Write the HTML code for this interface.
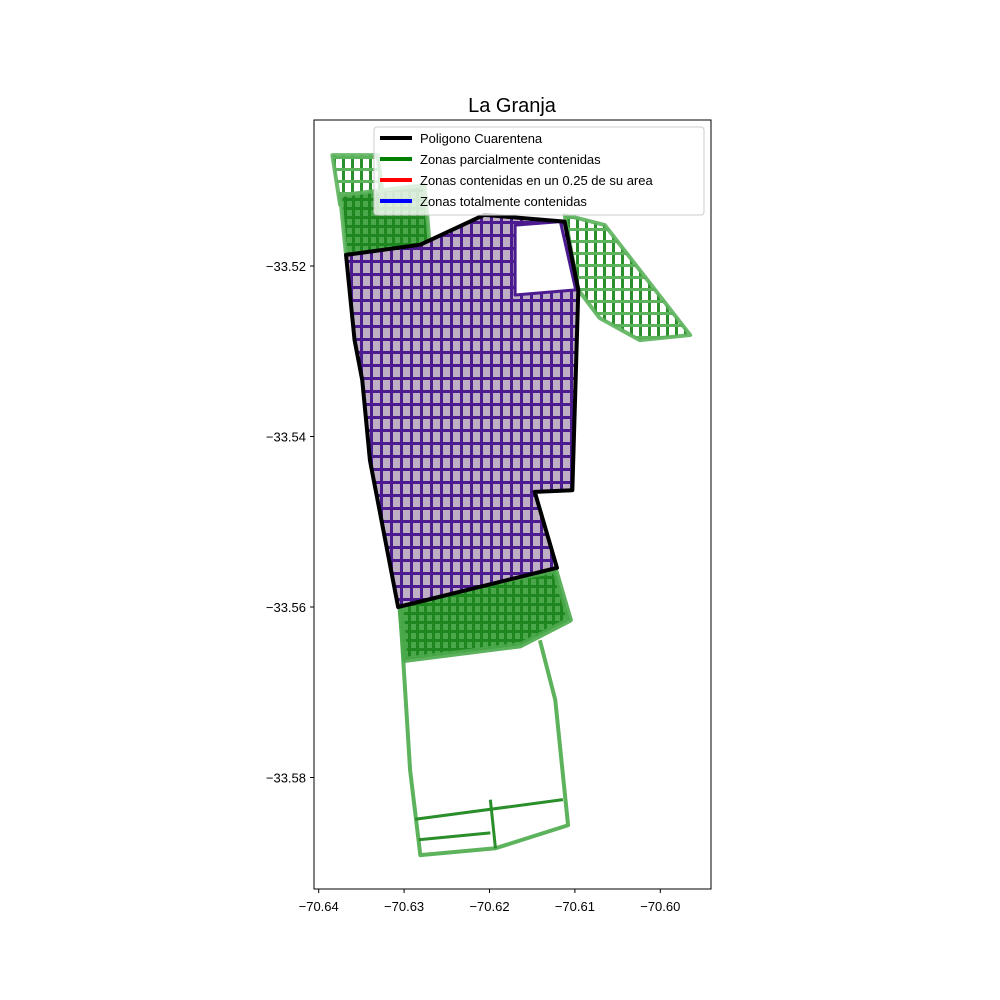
<!DOCTYPE html>
<html><head><meta charset="utf-8"><style>
body{margin:0;background:#fff;}
svg{display:block;font-family:"Liberation Sans","DejaVu Sans",sans-serif;}
</style></head><body>
<svg id="c" width="1000" height="1000" viewBox="0 0 1000 1000">
<defs>
<pattern id="pp" width="10" height="13" patternUnits="userSpaceOnUse">
<rect width="10" height="13" fill="#ffffff"/>
<rect x="3" y="3" width="7" height="10" fill="#6e4e7e" opacity="0.45"/>
<rect x="0" y="0" width="3" height="13" fill="#4b1b8f"/>
<rect x="0" y="0" width="10" height="3" fill="#4b1b8f"/>
</pattern>
<pattern id="gp" width="8" height="9" patternUnits="userSpaceOnUse">
<rect width="8" height="9" fill="#4aa84a"/>
<rect x="0" y="0" width="3" height="9" fill="#1f871f"/>
<rect x="0" y="0" width="8" height="3" fill="#1f871f"/>
</pattern>
<pattern id="gs" width="9" height="12" patternUnits="userSpaceOnUse">
<rect width="9" height="12" fill="#ffffff"/>
<rect x="0" y="0" width="3" height="12" fill="#2a8f2a"/>
<rect x="0" y="0" width="9" height="3" fill="#5cb35c"/>
</pattern>
</defs>
<text x="512" y="112" text-anchor="middle" font-size="20">La Granja</text>
<g id="plot"></g>
<rect x="314" y="120" width="397" height="769" fill="none" stroke="#000" stroke-width="1"/>
<g id="xt"></g><g id="yt"></g>
<g>
<rect x="374" y="127" width="330" height="88" fill="#fff" fill-opacity="0.8" stroke="#ccc" rx="3"/>
<g><line x1="380" y1="138" x2="412" y2="138" stroke="#000" stroke-width="4"/><text x="420" y="143" font-size="13">Poligono Cuarentena</text></g>
<g><line x1="380" y1="159" x2="412" y2="159" stroke="#008000" stroke-width="4"/><text x="420" y="164" font-size="13">Zonas parcialmente contenidas</text></g>
<g><line x1="380" y1="180" x2="412" y2="180" stroke="#ff0000" stroke-width="4"/><text x="420" y="185" font-size="13">Zonas contenidas en un 0.25 de su area</text></g>
<g><line x1="380" y1="201" x2="412" y2="201" stroke="#0000ff" stroke-width="4"/><text x="420" y="206" font-size="13">Zonas totalmente contenidas</text></g>
</g>
</svg>
<script>
const xTicks=[-70.64,-70.63,-70.62,-70.61,-70.60];
const xTickLabels=["\u221270.64","\u221270.63","\u221270.62","\u221270.61","\u221270.60"];
const yTicks=[-33.52,-33.54,-33.56,-33.58];
const yTickLabels=["\u221233.52","\u221233.54","\u221233.56","\u221233.58"];
const quarantineLon=[-70.6368,-70.6281,-70.6206,-70.6112,-70.6096,-70.6103,-70.6147,-70.6121,-70.6307,-70.634,-70.6349,-70.6358];
const quarantineLat=[-33.5187,-33.5175,-33.514,-33.5148,-33.5228,-33.5463,-33.5465,-33.5554,-33.56,-33.5428,-33.5334,-33.5287];
const gapLon=[-70.617,-70.6117,-70.6099,-70.617];
const gapLat=[-33.5152,-33.5148,-33.5228,-33.5234];
const northSparseLon=[-70.6384,-70.6331,-70.6324,-70.6375];
const northSparseLat=[-33.507,-33.507,-33.5123,-33.5128];
const northDenseLon=[-70.6375,-70.6276,-70.627,-70.6368];
const northDenseLat=[-33.5117,-33.5105,-33.5175,-33.5187];
const neLon=[-70.6112,-70.6065,-70.5965,-70.6024,-70.6071,-70.6096];
const neLat=[-33.514,-33.5152,-33.5281,-33.5287,-33.5261,-33.5228];
const southDenseLon=[-70.6305,-70.6123,-70.6106,-70.6164,-70.6299];
const southDenseLat=[-33.5592,-33.5557,-33.5615,-33.5645,-33.5662];
const southOutlineLon=[-70.6305,-70.6293,-70.6281,-70.6193,-70.6108,-70.6123,-70.6141];
const southOutlineLat=[-33.5598,-33.5791,-33.5891,-33.5883,-33.5856,-33.5709,-33.5639];
const southStreetsLon=[[-70.6287,-70.6114],[-70.6283,-70.6199],[-70.6199,-70.6193]];
const southStreetsLat=[[-33.5849,-33.5826],[-33.5873,-33.5865],[-33.5826,-33.5883]];
const NS="http://www.w3.org/2000/svg";
const X=v=>318.7+(v+70.64)*8540;
const Y=v=>266-(v+33.52)*8525;
const plot=document.getElementById('plot');
function pts(lo,la){return lo.map((v,i)=>X(v)+","+Y(la[i])).join(" ");}
function poly(lo,la,fill,stroke,sw,op,name,closed){
  const p=document.createElementNS(NS,closed===false?'polyline':'polygon');
  p.setAttribute('points',pts(lo,la));
  p.setAttribute('fill',fill);p.setAttribute('stroke',stroke);p.setAttribute('stroke-width',sw);
  p.setAttribute('stroke-opacity',op);p.setAttribute('stroke-linejoin','round');
  
  
  plot.appendChild(p);return p;
}
poly(northSparseLon,northSparseLat,"url(#gs)","#5cb35c",4,0.9,"zone-north-sparse");
poly(northDenseLon,northDenseLat,"url(#gp)","#5cb35c",4,0.9,"zone-north-dense");
poly(neLon,neLat,"url(#gs)","#5cb35c",4,0.9,"zone-northeast");
poly(southOutlineLon,southOutlineLat,"none","#5cb35c",4,1,"zone-south-outline",false);
southStreetsLon.forEach((lo,i)=>{poly(lo,southStreetsLat[i],"none","#2a8f2a",3,1,"south-street",false);});
poly(southDenseLon,southDenseLat,"url(#gp)","#4aa84a",6,0.9,"zone-south-dense");
poly(quarantineLon,quarantineLat,"url(#pp)","none",0,1,"contained-streets");
poly(gapLon,gapLat,"#ffffff","#4b1b8f",3,1,"open-area");
poly(quarantineLon,quarantineLat,"none","#000",4,1,"quarantine-polygon");
const xt=document.getElementById('xt');
xTicks.forEach((v,i)=>{
  const l=document.createElementNS(NS,'line');
  l.setAttribute('x1',X(v));l.setAttribute('x2',X(v));l.setAttribute('y1',889);l.setAttribute('y2',893);l.setAttribute('stroke','#000');
  
  
  xt.appendChild(l);
  const t=document.createElementNS(NS,'text');
  t.setAttribute('x',X(v));t.setAttribute('y',911);t.setAttribute('text-anchor','middle');t.setAttribute('font-size','13');
  t.textContent=xTickLabels[i];
  
  
  xt.appendChild(t);
});
const yt=document.getElementById('yt');
yTicks.forEach((v,i)=>{
  const l=document.createElementNS(NS,'line');
  l.setAttribute('x1',310);l.setAttribute('x2',314);l.setAttribute('y1',Y(v));l.setAttribute('y2',Y(v));l.setAttribute('stroke','#000');
  
  
  yt.appendChild(l);
  const t=document.createElementNS(NS,'text');
  t.setAttribute('x',306);t.setAttribute('y',Y(v)+5);t.setAttribute('text-anchor','end');t.setAttribute('font-size','13');
  t.textContent=yTickLabels[i];
  
  
  yt.appendChild(t);
});
</script>
</body></html>
